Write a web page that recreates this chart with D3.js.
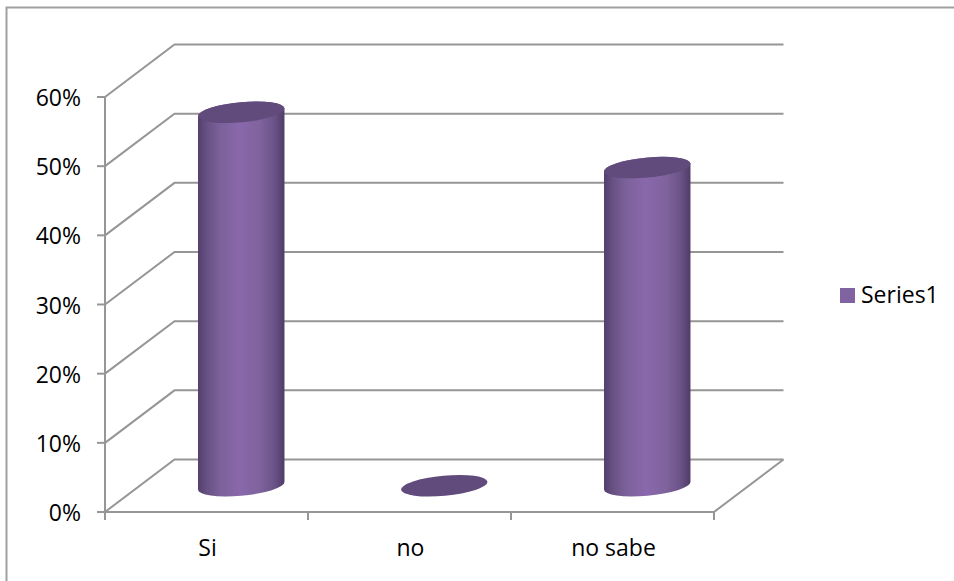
<!DOCTYPE html>
<html>
<head>
<meta charset="utf-8">
<style>
  html, body { margin: 0; padding: 0; background: #fff; }
  svg { display: block; }
  text { font-family: "Open Sans", Lato, sans-serif; fill: #000; }
</style>
<script src="https://cdnjs.cloudflare.com/ajax/libs/d3/7.8.5/d3.min.js"></script>
</head>
<body>
<svg id="chart" width="954" height="581"></svg>
<script>
const categories = ["Si", "no", "no sabe"];
const seriesValues = [54, 0, 46];
const seriesName = "Series1";
const yTicks = [0, 10, 20, 30, 40, 50, 60];

const svg = d3.select("#chart");
const gridColor = "#969696";

// Front face of the 3D plot box, plus the depth offset to the back wall.
const y = d3.scaleLinear().domain([0, 60]).range([512, 97]);
const x = d3.scaleBand().domain(categories).range([105, 714]);
const depth = { dx: 69.5, dy: -52.5 };

// Cylinder cross-section: a slightly tilted ellipse.
const rx = 43.4, ry = 10, tilt = -5.3;
const t = tilt * Math.PI / 180;
const halfW = Math.sqrt(rx * rx * Math.cos(t) ** 2 + ry * ry * Math.sin(t) ** 2);
const sideDy = (rx * rx - ry * ry) * Math.sin(t) * Math.cos(t) / halfW;

const defs = svg.append("defs");
const bodyGrad = defs.append("linearGradient").attr("id", "cylinderBody");
[[0, "#523e6c"], [0.1, "#675183"], [0.25, "#7b6199"], [0.48, "#8968ac"],
 [0.72, "#7f639c"], [0.88, "#6b5388"], [1, "#4f3c68"]].forEach(([o, c]) =>
  bodyGrad.append("stop").attr("offset", o).attr("stop-color", c));

// Outer frame: only the top and left edges are visible.
svg.append("path")
  .attr("d", "M6.5,581V7.5H954")
  .attr("fill", "none").attr("stroke", "#a0a0a0").attr("stroke-width", 2);

const grid = svg.append("g")
  .attr("fill", "none").attr("stroke", gridColor).attr("stroke-width", 2);

// Side wall diagonals and back wall gridlines.
yTicks.forEach(v => {
  const px = x.range()[0], py = y(v);
  grid.append("path").attr("d",
    `M${px},${py}L${px + depth.dx},${py + depth.dy}L${x.range()[1] + depth.dx},${py + depth.dy}`);
});

// Floor edges and value axis.
grid.append("path").attr("d",
  `M${x.range()[0]},${y(0)}L${x.range()[1]},${y(0)}L${x.range()[1] + depth.dx},${y(0) + depth.dy}`);
grid.append("path").attr("d", `M${x.range()[0]},${y(60)}V${y(0)}`);

// Tick marks on the value axis and between categories.
yTicks.forEach(v => {
  grid.append("path").attr("d", `M${x.range()[0] - 8},${y(v)}H${x.range()[0]}`);
});
const catEdges = categories.map(c => x(c)).concat(x.range()[1]);
catEdges.forEach(px => {
  grid.append("path").attr("d", `M${px},${y(0)}v8`);
});

// Cylinders stand in the middle of the floor depth.
const marks = svg.append("g");
categories.forEach((c, i) => {
  const cx = x(c) + x.bandwidth() / 2 + depth.dx / 2;
  const base = y(0) + depth.dy / 2;
  const h = y(0) - y(seriesValues[i]);
  const topY = base - h;
  const lx = cx - halfW, rxPos = cx + halfW;
  if (h > 0) {
    marks.append("path")
      .attr("d",
        `M${lx},${topY - sideDy}` +
        `L${lx},${base - sideDy}` +
        `A${rx},${ry} ${tilt} 0 0 ${rxPos},${base + sideDy}` +
        `L${rxPos},${topY + sideDy}` +
        `A${rx},${ry} ${tilt} 0 0 ${lx},${topY - sideDy}Z`)
      .attr("fill", "url(#cylinderBody)");
  }
  marks.append("ellipse")
    .attr("rx", rx).attr("ry", ry)
    .attr("transform", `translate(${cx},${topY}) rotate(${tilt})`)
    .attr("fill", "#614b7c");
});

// Value axis labels.
svg.append("g").selectAll("text").data(yTicks).join("text")
  .attr("x", 81).attr("y", d => y(d) + 9)
  .attr("text-anchor", "end").attr("font-size", 23)
  .text(d => d + "%");

// Category labels.
svg.append("g").selectAll("text").data(categories).join("text")
  .attr("x", d => x(d) + x.bandwidth() / 2 + 1).attr("y", 556)
  .attr("text-anchor", "middle").attr("font-size", 23)
  .text(d => d);

// Legend.
svg.append("rect").attr("x", 840).attr("y", 288).attr("width", 15).attr("height", 15)
  .attr("fill", "#8064a2");
svg.append("text").attr("x", 861).attr("y", 303).attr("font-size", 23).text(seriesName);
</script>
</body>
</html>
